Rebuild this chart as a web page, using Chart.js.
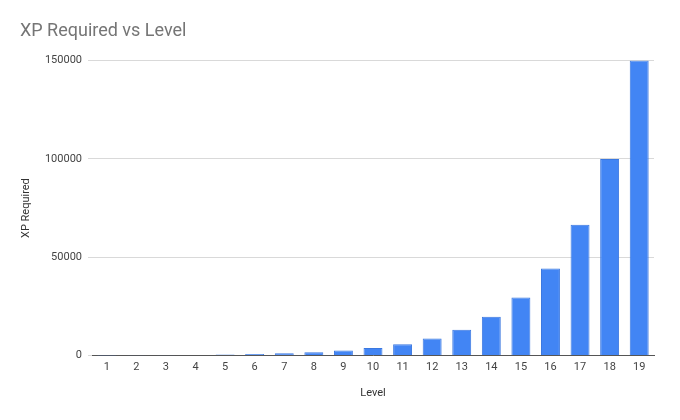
<!DOCTYPE html>
<html>
<head>
<meta charset="utf-8">
<script src="https://cdn.jsdelivr.net/npm/chart.js@4"></script>
<style>
  html, body { margin: 0; padding: 0; background: #fff; }
  #wrap { width: 680px; height: 420px; }
</style>
</head>
<body>
<div id="wrap"><canvas id="myChart" width="680" height="420"></canvas></div>
<script>
// levels on the x axis
const levels = [1, 2, 3, 4, 5, 6, 7, 8, 9, 10, 11, 12, 13, 14, 15, 16, 17, 18, 19];
// xp
const xpRequired = [100, 150, 230, 340, 510, 770, 1150, 1700, 2600, 3900, 5800, 8700, 13100, 19700, 29500, 44300, 66500, 100000, 150000];
const yTicks = [0, 50000, 100000, 150000];

const data = {
  labels: levels,
  datasets: [
    {
      label: 'XP Required',
      data: xpRequired,
      backgroundColor: '#4285f4',
      borderColor: '#3b78e0',
      borderWidth: 1,
      categoryPercentage: 1,
      barPercentage: 0.64
    }
  ]
};

const config = {
  type: 'bar',
  data: data,
  options: {
    responsive: false,
    animation: false,
    layout: {
      padding: { left: 20, right: 26, top: 0, bottom: 20 }
    },
    plugins: {
      legend: { display: false },
      tooltip: { enabled: false },
      title: {
        display: true,
        text: 'XP Required vs Level',
        align: 'start',
        color: '#757575',
        font: { family: 'Roboto', size: 18, weight: 'normal' },
        padding: { top: 21, bottom: 18 }
      }
    },
    scales: {
      x: {
        grid: { display: false, drawTicks: false },
        border: { display: true, color: '#555', width: 1 },
        ticks: {
          color: '#444',
          font: { family: 'Roboto', size: 11 },
          padding: 5,
          maxRotation: 0
        },
        title: {
          display: true,
          text: 'Level',
          color: '#333',
          font: { family: 'Roboto', size: 11 },
          padding: { top: 8, bottom: 0 }
        }
      },
      y: {
        min: 0,
        max: 150000,
        afterBuildTicks: (axis) => {
          axis.ticks = yTicks.map(v => ({ value: v }));
        },
        afterFit: (axis) => {
          axis.width = 72;
        },
        grid: {
          color: '#d9d9d9',
          tickLength: 4,
          drawTicks: true
        },
        border: { display: false },
        ticks: {
          color: '#444',
          font: { family: 'Roboto', size: 11 },
          padding: 6,
          callback: (v) => String(v)
        },
        title: {
          display: true,
          text: 'XP Required',
          color: '#333',
          font: { family: 'Roboto', size: 11 },
          padding: { top: 0, bottom: 0 }
        }
      }
    }
  }
};

var myChart = new Chart(
  document.getElementById('myChart'),
  config
);
</script>
</body>
</html>
